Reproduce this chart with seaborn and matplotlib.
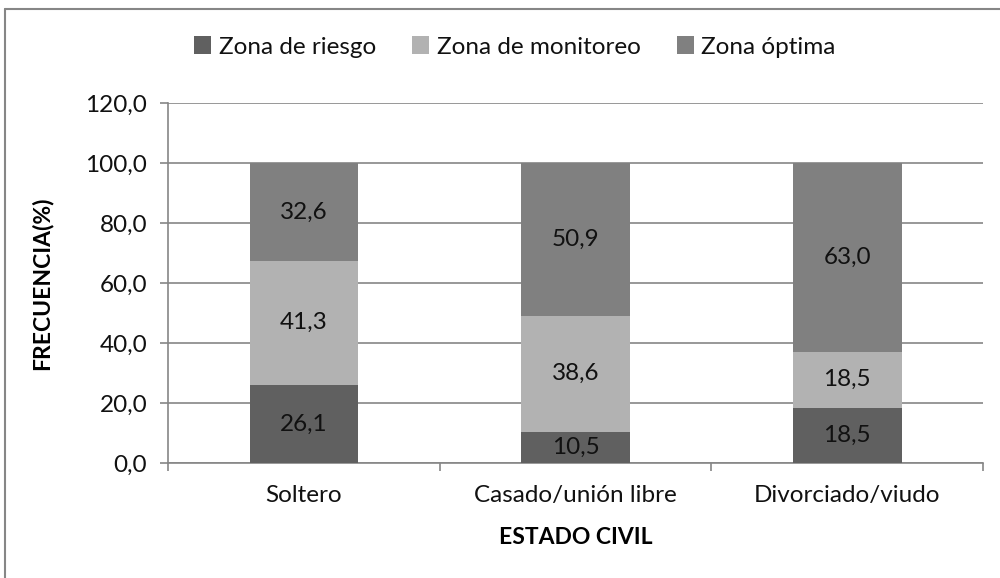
import matplotlib
matplotlib.use("Agg")
import matplotlib.pyplot as plt
import seaborn as sns
import numpy as np
import pandas as pd
from matplotlib.lines import Line2D
from matplotlib.patches import Patch

categories = ["Soltero", "Casado/unión libre", "Divorciado/viudo"]
series_names = ["Zona de riesgo", "Zona de monitoreo", "Zona óptima"]
riesgo = [26.1, 10.5, 18.5]
monitoreo = [41.3, 38.6, 18.5]
optima = [32.6, 50.9, 63.0]
y_ticks = [0, 20, 40, 60, 80, 100, 120]
y_tick_labels = ["0,0", "20,0", "40,0", "60,0", "80,0", "100,0", "120,0"]
colors = ["#606060", "#b2b2b2", "#808080"]

sns.set_theme(style="white")
plt.rcParams["font.family"] = ["Lato", "DejaVu Sans"]
FS = 17.5
GRID = "#868686"

W, H = 1000, 578
fig = plt.figure(figsize=(W / 100, H / 100), dpi=100)
ax = fig.add_axes([168 / W, 1 - 463 / H, (983 - 168) / W, (463 - 103) / H])

series = [riesgo, monitoreo, optima]
bottom = np.zeros(len(categories))
for name, vals, col in zip(series_names, series, colors):
    df = pd.DataFrame({"cat": categories, "val": vals})
    sns.barplot(data=df, x="cat", y="val", order=categories, color=col,
                width=0.4, bottom=bottom.copy(), ax=ax, saturation=1,
                linewidth=0, zorder=3)
    for i, v in enumerate(vals):
        ax.text(i, bottom[i] + v / 2, f"{v:.1f}".replace(".", ","),
                ha="center", va="center", fontsize=FS, color="#111111", zorder=4)
    bottom += np.array(vals)

ax.set_ylim(0, 120)
ax.set_xlim(-0.5, 2.5)
ax.set_yticks(y_ticks)
ax.set_yticklabels(y_tick_labels, fontsize=FS, color="#111111")
ax.yaxis.grid(True, color=GRID, linewidth=1.2, zorder=0)
ax.set_axisbelow(True)

ax.set_xticks([-0.5, 0.5, 1.5, 2.5])
ax.set_xticklabels([])
ax.set_xticks([0, 1, 2], minor=True)
ax.set_xticklabels(categories, minor=True, fontsize=FS, color="#111111")
ax.tick_params(axis="x", which="major", length=6, width=1.2, color=GRID, direction="out", bottom=True)
ax.tick_params(axis="x", which="minor", length=0, pad=16, bottom=True)
ax.tick_params(axis="y", length=6, width=1.2, color=GRID, direction="out", pad=9, left=True)

for s in ["top", "right"]:
    ax.spines[s].set_visible(False)
for s in ["left", "bottom"]:
    ax.spines[s].set_color(GRID)
    ax.spines[s].set_linewidth(1.2)

ax.set_xlabel("ESTADO CIVIL", fontsize=FS - 1, fontweight="bold", color="black")
ax.xaxis.set_label_coords(0.5, -(527 - 463) / 360)
ax.set_ylabel("FRECUENCIA(%)", fontsize=FS - 1, fontweight="bold", color="black")
ax.yaxis.set_label_coords((52 - 168) / 815, 0.5)

handles = [Patch(facecolor=c, edgecolor="none") for c in colors]
fig.legend(handles, series_names, loc="center", bbox_to_anchor=(515 / W, 1 - 47 / H),
           ncol=3, frameon=False, fontsize=FS, handlelength=0.7, handleheight=0.7,
           handletextpad=0.3, columnspacing=1.5, labelcolor="#111111")

fig.add_artist(Line2D([5 / W, 1.0], [1 - 9 / H, 1 - 9 / H], color=GRID, linewidth=1.5,
                      transform=fig.transFigure))
fig.add_artist(Line2D([5 / W, 5 / W], [1 - 9 / H, 0.0], color=GRID, linewidth=1.5,
                      transform=fig.transFigure))

fig.savefig("out.png", dpi=100, facecolor="white")
